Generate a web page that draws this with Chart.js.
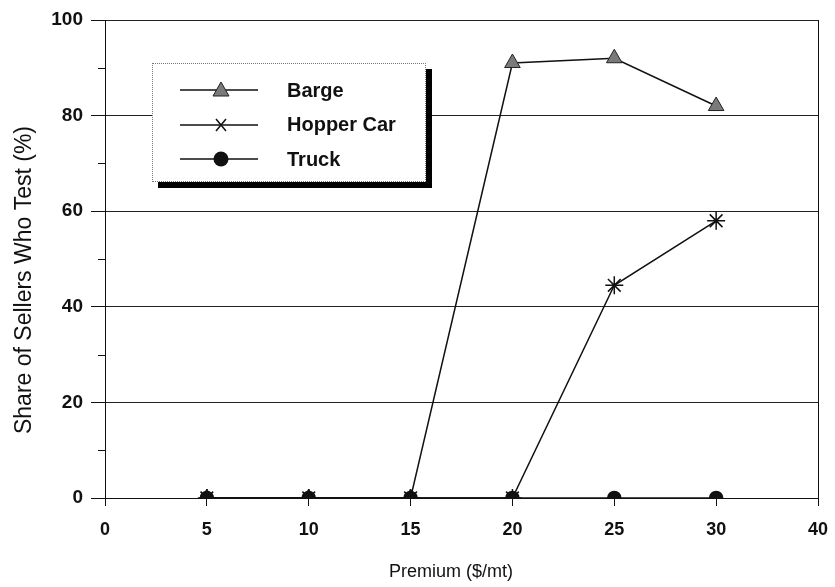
<!DOCTYPE html>
<html>
<head>
<meta charset="utf-8">
<script src="https://cdn.jsdelivr.net/npm/chart.js@4/dist/chart.umd.min.js"></script>
<style>
    body { margin: 0; background: #fff; }
    #wrap { position: relative; width: 835px; height: 587px; }
    #legend {
        position: absolute; left: 152px; top: 63px; width: 272px; height: 117px;
        border: 1px dotted #777; background: #fff;
        box-shadow: 6px 6px 0 #000;
        font-family: "Liberation Sans", Arial, sans-serif; font-weight: bold; font-size: 20px; color: #111;
    }
    .row { position: absolute; left: 26px; height: 20px; display: flex; align-items: center; }
    .row span { margin-left: 28px; }
</style>
</head>
<body>
<div id="wrap">
    <canvas id="chart" width="835" height="587"></canvas>
    <div id="legend"></div>
</div>
<script>
// Chart data
const premiums = ['0', '5', '10', '15', '20', '25', '30', '40'];
const bargeShare = [null, 0, 0, 0, 91, 92, 82, null];
const hopperShare = [null, 0, 0, 0, 0, 44.5, 58, null];
const truckShare = [null, 0, 0, 0, 0, 0, 0, null];
const yTicks = [0, 20, 40, 60, 80, 100];
const yMinorTicks = [10, 30, 50, 70, 90];

const seriesNames = ['Barge', 'Hopper Car', 'Truck'];
const xTitle = 'Premium ($/mt)';
const yTitle = 'Share of Sellers Who Test (%)';
const ink = '#111';

// Small ticks between labelled y ticks, plus both axis titles
// (the originals sit a little off the plot centre)
const extras = {
    id: 'extras',
    afterDraw(chart) {
        const y = chart.scales.y;
        const c = chart.ctx;
        c.save();
        c.strokeStyle = ink;
        c.lineWidth = 1;
        yMinorTicks.forEach(v => {
            const py = Math.round(y.getPixelForValue(v)) + 0.5;
            c.beginPath();
            c.moveTo(y.right - 7, py);
            c.lineTo(y.right, py);
            c.stroke();
        });
        c.fillStyle = ink;
        c.textAlign = 'center';
        c.textBaseline = 'middle';
        c.font = '18px "Liberation Sans"';
        c.fillText(xTitle, 451, 572);
        c.translate(25, 280);
        c.rotate(-Math.PI / 2);
        c.font = '23px "Liberation Sans"';
        c.fillText(yTitle, 0, 0);
        c.restore();
    }
};

new Chart(document.getElementById('chart'), {
    type: 'line',
    data: {
        labels: premiums,
        datasets: [
            {
                label: seriesNames[0],
                data: bargeShare,
                order: 2,
                borderColor: ink,
                borderWidth: 1.5,
                pointStyle: 'triangle',
                pointRadius: 9,
                pointBackgroundColor: '#7a7a7a',
                pointBorderColor: '#222',
                pointBorderWidth: 1
            },
            {
                label: seriesNames[1],
                data: hopperShare,
                order: 1,
                borderColor: ink,
                borderWidth: 1.5,
                pointStyle: 'star',
                pointRadius: 9,
                pointBorderColor: ink,
                pointBorderWidth: 1.5
            },
            {
                label: seriesNames[2],
                data: truckShare,
                order: 0,
                borderColor: ink,
                borderWidth: 1.5,
                pointStyle: 'circle',
                pointRadius: 6.5,
                pointBackgroundColor: ink,
                pointBorderColor: ink
            }
        ]
    },
    options: {
        responsive: false,
        animation: false,
        layout: { padding: { top: 20, right: 17, left: 0, bottom: 0 } },
        plugins: {
            legend: { display: false },
            tooltip: { enabled: false }
        },
        scales: {
            x: {
                type: 'category',
                offset: false,
                afterFit: s => { s.height = 89; s.paddingRight = 0; s.paddingLeft = 0; },
                grid: {
                    color: ctx => ctx.index === premiums.length - 1 ? ink : 'transparent',
                    tickColor: ink,
                    tickLength: 8
                },
                border: { display: true, color: ink },
                ticks: {
                    color: ink,
                    padding: 13,
                    maxRotation: 0,
                    font: { family: 'Liberation Sans', weight: 'bold', size: 18 }
                },
                title: { display: false }
            },
            y: {
                min: 0,
                max: 100,
                afterFit: s => { s.width = 105; },
                afterBuildTicks: s => { s.ticks = yTicks.map(v => ({ value: v })); },
                grid: { color: '#222', tickColor: ink, tickLength: 14 },
                border: { display: true, color: ink },
                ticks: {
                    color: ink,
                    padding: 8,
                    font: { family: 'Liberation Sans', weight: 'bold', size: 19 }
                },
                title: { display: false }
            }
        }
    },
    plugins: [extras]
});

// Legend box with drop shadow
const icons = [
    '<polygon points="42,2 50,16 34,16" fill="#7a7a7a" stroke="#222" stroke-width="1"/>',
    '<path d="M37,4 L47,16 M47,4 L37,16" stroke="#111" stroke-width="1.5"/>',
    '<circle cx="42" cy="10" r="7.5" fill="#111"/>'
];
const legend = document.getElementById('legend');
seriesNames.forEach((name, i) => {
    const row = document.createElement('div');
    row.className = 'row';
    row.style.top = (16 + i * 34.5) + 'px';
    row.innerHTML = '<svg width="80" height="20"><line x1="1" y1="10" x2="79" y2="10" stroke="#111" stroke-width="1.5"/>' +
        icons[i] + '</svg><span>' + name + '</span>';
    legend.appendChild(row);
});
</script>
</body>
</html>
